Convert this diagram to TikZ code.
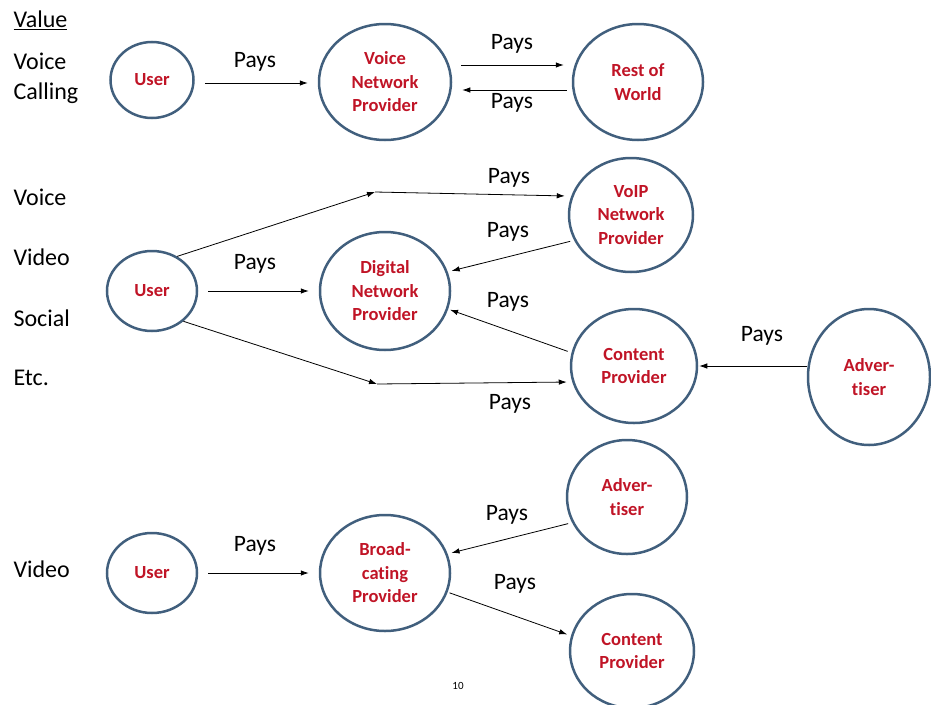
\documentclass[tikz,border=0pt]{standalone}
\usepackage{fontspec}
\setmainfont{Carlito}[Ligatures=NoCommon]
\usetikzlibrary{shapes.geometric,arrows.meta}
\definecolor{ring}{RGB}{65,95,125}
\definecolor{txtred}{RGB}{192,20,38}

\begin{document}
\begin{tikzpicture}[x=1pt,y=-1pt,
  party/.style={ellipse,draw=ring,line width=2.5pt,inner sep=0pt,align=center,
    font=\fontsize{18.5}{23.5}\selectfont\bfseries,text=txtred},
  pays/.style={font=\fontsize{23.5}{27}\selectfont},
  side/.style={font=\fontsize{24}{30}\selectfont,anchor=west,align=left},
  arr/.style={-{Latex[length=8pt,width=5.5pt]},line width=0.8pt},
]
\useasboundingbox (0,0) rectangle (931,704);

% ---- value labels on the left
\node[side] (lvalue) at (10,20) {\underline{Value}};
\node[side] (lvoicecall) at (10,78) {Voice\\Calling};
\node[side] (lvoice) at (10,197) {Voice};
\node[side] (lvideo) at (10,257) {Video};
\node[side] (lsocial) at (10,318) {Social};
\node[side] (letc) at (10,378) {Etc.};
\node[side] (lvideob) at (10,569) {Video};

% ---- voice calling
\node[party,minimum width=83pt,minimum height=76pt] (u1) at (152,80) {User};
\node[party,minimum width=132pt,minimum height=116pt] (vnp) at (385,82) {Voice\\Network\\Provider};
\node[party,minimum width=130pt,minimum height=116pt] (row) at (638,82) {Rest of\\World};

\draw[arr,shorten <=10pt,shorten >=10pt] ([yshift=-3pt]u1.east) -- ([yshift=-1pt]vnp.west);
\node[pays] (p1) at (255,62) {Pays};
\draw[arr,shorten <=9pt,shorten >=8pt] ([yshift=17pt]vnp.east) -- ([yshift=17pt]row.west);
\node[pays] (p2) at (512,44) {Pays};
\draw[arr,shorten <=5pt,shorten >=10pt] ([yshift=-8pt]row.west) -- ([yshift=-8pt]vnp.east);
\node[pays] (p3) at (512,103) {Pays};

% ---- voice / video / social
\node[party,minimum width=90pt,minimum height=80pt] (u2) at (152,291) {User};
\node[party,minimum width=130pt,minimum height=118pt] (dnp) at (385,291) {Digital\\Network\\Provider};
\node[party,minimum width=124pt,minimum height=114pt] (voip) at (631,215) {VoIP\\Network\\Provider};
\node[party,minimum width=126pt,minimum height=114pt] (cp1) at (634,366) {Content\\Provider};
\node[party,minimum width=122pt,minimum height=136pt] (adv1) at (869,377) {Adver-\\tiser};

\coordinate (m1) at (375,192);
\coordinate (m2) at (377,384);

\draw[arr] (u2.54) -- (m1);
\draw[arr,shorten >=3pt] (m1) -- ([yshift=19pt]voip.west);
\node[pays] (p4) at (509,178) {Pays};
\draw[arr,shorten <=4pt,shorten >=4pt] (voip.204) -- (dnp.17);
\node[pays] (p5) at (508,232) {Pays};
\draw[arr,shorten <=10pt,shorten >=10pt] (u2) -- (dnp);
\node[pays] (p6) at (255,264) {Pays};
\draw[arr,shorten <=4pt,shorten >=2pt] (cp1.168) -- (dnp.344);
\node[pays] (p7) at (508,302) {Pays};
\draw[arr] (u2.316) -- (m2);
\draw[arr,shorten >=3pt] (m2) -- ([yshift=-16pt]cp1.west);
\node[pays] (p8) at (510,404) {Pays};
\draw[arr,shorten >=1pt] ([yshift=11pt]adv1.west) -- (cp1.east);
\node[pays] (p9) at (762,336) {Pays};

% ---- video broadcasting
\node[party,minimum width=90pt,minimum height=80pt] (u3) at (152,573) {User};
\node[party,minimum width=130pt,minimum height=116pt] (bp) at (385,573) {Broad-\\cating\\Provider};
\node[party,minimum width=120pt,minimum height=114pt] (adv2) at (627,497) {Adver-\\tiser};
\node[party,minimum width=124pt,minimum height=114pt] (cp2) at (632,651) {Content\\Provider};

\draw[arr,shorten <=10pt,shorten >=10pt] (u3) -- (bp);
\node[pays] (p10) at (255,546) {Pays};
\draw[arr,shorten <=4pt,shorten >=4pt] (adv2.205) -- (bp.17);
\node[pays] (p11) at (507,515) {Pays};
\draw[arr,shorten <=2pt,shorten >=4pt] (bp.343) -- (cp2.166);
\node[pays] (p12) at (515,584) {Pays};

% ---- page number
\node[font=\fontsize{11}{13}\selectfont] (pg) at (458,686) {10};
\end{tikzpicture}
\end{document}
